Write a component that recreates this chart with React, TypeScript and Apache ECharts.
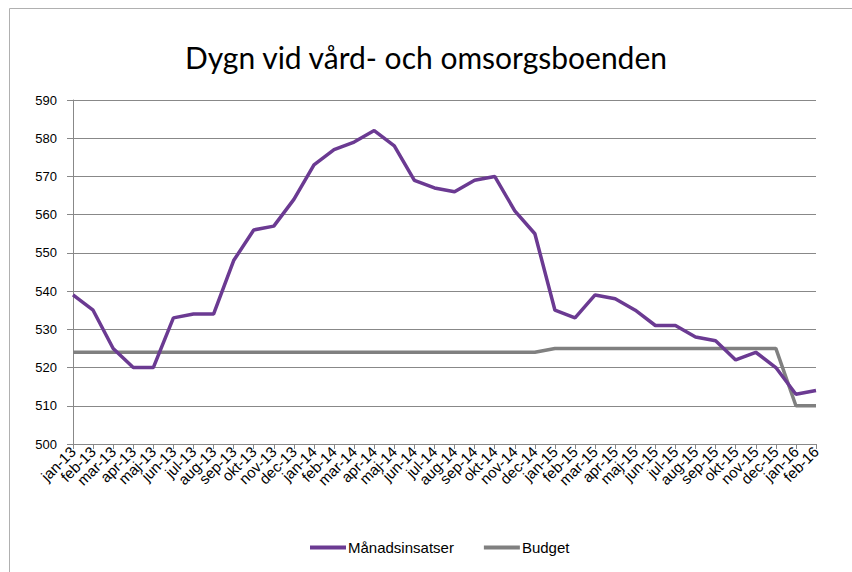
import React, { useEffect, useRef } from "react";
import * as echarts from "echarts";

const categories = [
  "jan-13", "feb-13", "mar-13", "apr-13", "maj-13", "jun-13", "jul-13", "aug-13", "sep-13", "okt-13", "nov-13", "dec-13",
  "jan-14", "feb-14", "mar-14", "apr-14", "maj-14", "jun-14", "jul-14", "aug-14", "sep-14", "okt-14", "nov-14", "dec-14",
  "jan-15", "feb-15", "mar-15", "apr-15", "maj-15", "jun-15", "jul-15", "aug-15", "sep-15", "okt-15", "nov-15", "dec-15",
  "jan-16", "feb-16",
];

const manadsinsatser = [
  539, 535, 525, 520, 520, 533, 534, 534, 548, 556, 557, 564,
  573, 577, 579, 582, 578, 569, 567, 566, 569, 570, 561, 555,
  535, 533, 539, 538, 535, 531, 531, 528, 527, 522, 524, 520,
  513, 514,
];

const budget = [
  524, 524, 524, 524, 524, 524, 524, 524, 524, 524, 524, 524,
  524, 524, 524, 524, 524, 524, 524, 524, 524, 524, 524, 524,
  525, 525, 525, 525, 525, 525, 525, 525, 525, 525, 525, 525,
  510, 510,
];

const seriesNames = ["Månadsinsatser", "Budget"];
const titleText = "Dygn vid vård- och omsorgsboenden";

export default function App() {
  const ref = useRef<HTMLDivElement>(null);
  useEffect(() => {
    if (!ref.current) return;
    const chart = echarts.init(ref.current, null, { renderer: "svg" });
    chart.setOption({
      animation: false,
      backgroundColor: "#ffffff",
      graphic: [
        {
          type: "rect",
          shape: { x: 9.5, y: 8.5, width: 900, height: 600 },
          style: { fill: "none", stroke: "#b0b0b0", lineWidth: 1 },
          silent: true,
        },
      ],
      title: {
        text: titleText,
        left: "center",
        top: 37,
        textStyle: {
          fontFamily: "Lato",
          fontWeight: "normal",
          fontSize: 30,
          color: "#000000",
        },
      },
      legend: {
        bottom: 12,
        left: 305,
        icon: "rect",
        itemWidth: 36,
        itemHeight: 4,
        itemGap: 30,
        textStyle: { fontFamily: "Liberation Sans", fontSize: 15, color: "#000", padding: [0, 0, 0, -3] },
        data: seriesNames,
      },
      grid: { left: 73, right: 36, top: 100, bottom: 128, containLabel: false },
      xAxis: {
        type: "category",
        data: categories,
        boundaryGap: false,
        axisLine: { lineStyle: { color: "#888888", width: 1 } },
        axisTick: { show: true, length: 5, lineStyle: { color: "#888888" } },
        axisLabel: {
          interval: 0,
          rotate: 45,
          fontFamily: "Liberation Sans",
          fontSize: 15,
          color: "#000",
          margin: 5,
        },
      },
      yAxis: {
        type: "value",
        min: 500,
        max: 590,
        interval: 10,
        axisLine: { show: true, lineStyle: { color: "#888888", width: 1 } },
        axisTick: { show: true, length: 6, lineStyle: { color: "#888888" } },
        splitLine: { lineStyle: { color: "#888888", width: 1 } },
        axisLabel: {
          fontFamily: "Liberation Sans",
          fontSize: 13,
          color: "#000",
          margin: 16,
        },
      },
      series: [
        {
          name: seriesNames[0],
          type: "line",
          data: manadsinsatser,
          showSymbol: false,
          symbol: "none",
          lineStyle: { color: "#6B3A92", width: 3.5 },
          itemStyle: { color: "#6B3A92" },
          z: 3,
        },
        {
          name: seriesNames[1],
          type: "line",
          data: budget,
          showSymbol: false,
          symbol: "none",
          lineStyle: { color: "#808080", width: 3.5 },
          itemStyle: { color: "#808080" },
          z: 2,
        },
      ],
    });
    return () => chart.dispose();
  }, []);
  return (
    <div
      ref={ref}
      style={{ position: "absolute", left: 0, top: 0, width: 852, height: 572 }}
    />
  );
}
